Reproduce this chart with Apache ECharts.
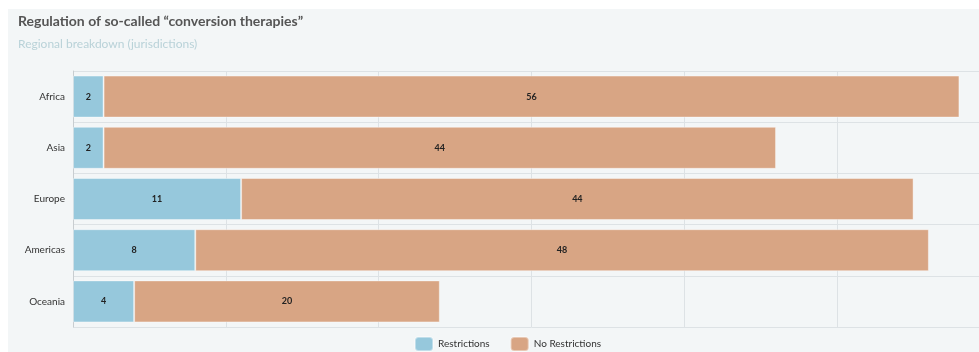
<!DOCTYPE html>
<html><head><meta charset="utf-8">
<script src="https://cdn.jsdelivr.net/npm/echarts@6/dist/echarts.min.js"></script>
<style>html,body{margin:0;padding:0;background:#fff;overflow:hidden}#c{width:990px;height:352px}</style>
</head><body><div id="c"></div>
<script>
const categories = ["Africa", "Asia", "Europe", "Americas", "Oceania"];
const restrictions = [2, 2, 11, 8, 4];
const noRestrictions = [56, 44, 44, 48, 20];
const seriesNames = ["Restrictions", "No Restrictions"];

const chart = echarts.init(document.getElementById('c'));
const font = 'Lato, "Open Sans", sans-serif';
const lbl = {show: true, position: 'inside', color: '#222', fontSize: 9, fontWeight: 'bold', fontFamily: font};
chart.setOption({
  backgroundColor: '#fff',
  animation: false,
  graphic: [{type: 'rect', z: -10, silent: true, shape: {x: 8, y: 9, width: 990, height: 350}, style: {fill: '#f3f6f7'}}],
  title: {
    text: 'Regulation of so-called \u201cconversion therapies\u201d',
    subtext: 'Regional breakdown (jurisdictions)',
    left: 13, top: 9,
    textStyle: {fontFamily: font, fontSize: 14, fontWeight: 'bold', color: '#555'},
    subtextStyle: {fontFamily: font, fontSize: 12, color: '#b9d2d8'},
    itemGap: 10
  },
  legend: {
    top: 331, left: 409,
    itemWidth: 18, itemHeight: 14, itemGap: 20,
    icon: 'roundRect',
    textStyle: {fontFamily: font, fontSize: 10, color: '#333'},
    data: seriesNames
  },
  grid: {left: 73, right: 0, top: 71, bottom: 25, containLabel: false},
  xAxis: {
    type: 'value', min: 0, max: 60, interval: 10,
    axisLabel: {show: false}, axisLine: {show: false}, axisTick: {show: false},
    splitLine: {show: true, lineStyle: {color: '#dde2e5'}}
  },
  yAxis: {
    type: 'category', data: categories, inverse: true,
    axisLine: {show: true, lineStyle: {color: '#c8cdd0'}},
    axisTick: {show: false},
    axisLabel: {fontFamily: font, fontSize: 10, color: '#333', margin: 8},
    splitLine: {show: true, lineStyle: {color: '#dde2e5'}}
  },
  series: [
    {name: seriesNames[0], type: 'bar', stack: 't', data: restrictions, barWidth: '82%',
     itemStyle: {color: '#96c8dc', borderColor: 'rgba(255,255,255,0.4)', borderWidth: 1}, label: lbl},
    {name: seriesNames[1], type: 'bar', stack: 't', data: noRestrictions, barWidth: '82%',
     itemStyle: {color: '#d8a584', borderColor: 'rgba(255,255,255,0.4)', borderWidth: 1}, label: lbl}
  ]
});
</script></body></html>
